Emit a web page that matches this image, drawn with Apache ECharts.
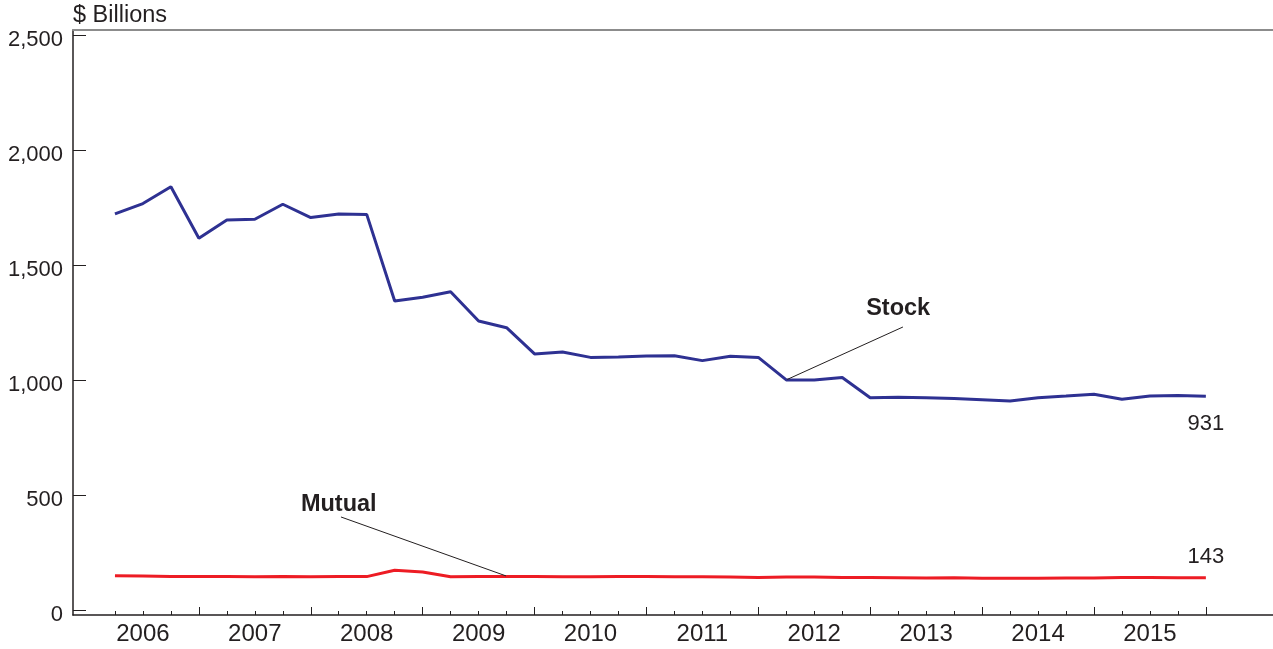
<!DOCTYPE html>
<html><head><meta charset="utf-8">
<script src="https://cdn.jsdelivr.net/npm/echarts@6/dist/echarts.min.js"></script>
<style>html,body{margin:0;padding:0;background:#fff}#c{width:1273px;height:649px}</style>
</head><body><div id="c"></div>
<script>
// Quarter-end index t = 1..40 (2006 Q1 .. 2015 Q4)
const years = [2006, 2007, 2008, 2009, 2010, 2011, 2012, 2013, 2014, 2015];
const quarterIdx = Array.from({length: 40}, (_, i) => i + 1);
const stock = [1723, 1768, 1841, 1617, 1697, 1700, 1765, 1707, 1723, 1721,
               1345, 1361, 1385, 1258, 1229, 1115, 1123, 1100, 1102, 1106,
               1107, 1086, 1105, 1100, 1002, 1002, 1013, 925, 927, 925,
               921, 916, 911, 925, 932, 940, 918, 932, 934, 931];
const mutual = [152, 151, 148, 148, 148, 147, 149, 147, 148, 148,
                176, 168, 147, 148, 149, 149, 147, 147, 148, 148,
                147, 147, 146, 144, 146, 146, 144, 144, 143, 142,
                143, 141, 141, 141, 142, 142, 144, 144, 143, 143];
const yTicks = [0, 500, 1000, 1500, 2000, 2500];
const yearLabelPos = years.map((y, i) => i * 4 + 2);
const yearBounds = years.map((y, i) => i * 4 + 4);
const minorTicks = quarterIdx.filter(t => t % 4 !== 0);

const ink = '#231f20';
const pairs = arr => arr.map((v, i) => [quarterIdx[i], v]);

const chart = echarts.init(document.getElementById('c'), null, {renderer: 'canvas'});
const xBase = {type: 'value', min: -0.5, max: 42.4, gridIndex: 0, splitLine: {show: false}};
chart.setOption({
  animation: false,
  backgroundColor: '#fff',
  title: {text: '$ Billions', left: 73, top: 4, padding: 0,
    textStyle: {fontFamily: 'Liberation Sans', fontSize: 23.5, fontWeight: 'normal', color: ink}},
  grid: {left: 73, right: 0, top: 30, bottom: 34},
  xAxis: [
    Object.assign({}, xBase, {
      position: 'bottom',
      axisLine: {show: true, onZero: false, lineStyle: {color: ink, width: 1.5}},
      axisTick: {show: true, inside: true, length: 4, customValues: minorTicks, lineStyle: {color: ink, width: 1}},
      axisLabel: {show: true, customValues: yearLabelPos, margin: 7,
        formatter: v => String(years[Math.round((v - 2) / 4)]),
        fontFamily: 'Liberation Sans', fontSize: 24, color: ink}
    }),
    Object.assign({}, xBase, {
      position: 'bottom',
      axisLine: {show: false, onZero: false},
      axisTick: {show: true, inside: true, length: 8, customValues: yearBounds, lineStyle: {color: ink, width: 1}},
      axisLabel: {show: false}
    }),
    Object.assign({}, xBase, {
      position: 'top',
      axisLine: {show: true, onZero: false, lineStyle: {color: '#8c8c8c', width: 2}},
      axisTick: {show: false},
      axisLabel: {show: false}
    })
  ],
  yAxis: {
    type: 'value', min: -18.7, max: 2521.7,
    splitLine: {show: false},
    axisLine: {show: true, onZero: false, lineStyle: {color: ink, width: 1.5}},
    axisTick: {show: true, inside: true, length: 13, customValues: yTicks, lineStyle: {color: ink, width: 1}},
    axisLabel: {show: true, customValues: yTicks, margin: 10,
      formatter: v => '{a|' + Number(v).toLocaleString('en-US') + '}',
      rich: {a: {fontFamily: 'Liberation Sans', fontSize: 22, color: ink, padding: [9, 0, 0, 0]}},
      fontFamily: 'Liberation Sans', fontSize: 22, color: ink}
  },
  series: [
    {
      name: 'Stock', type: 'line', xAxisIndex: 0, data: pairs(stock),
      symbol: 'none', lineStyle: {color: '#2e3192', width: 3}, itemStyle: {color: '#2e3192'},
      markPoint: {
        symbol: 'circle', symbolSize: 0, silent: true,
        data: [
          {coord: [quarterIdx[39], stock[39]], label: {show: true, position: 'inside', offset: [0, 28],
            formatter: String(stock[39]), fontFamily: 'Liberation Sans', fontSize: 22, color: ink}},
          {coord: [29.0, 1314], label: {show: true, position: 'inside', formatter: 'Stock',
            fontFamily: 'Liberation Sans', fontSize: 23.5, fontWeight: 'bold', color: ink}}
        ]
      },
      markLine: {
        silent: true, symbol: 'none', label: {show: false},
        lineStyle: {color: ink, width: 1, type: 'solid'},
        data: [[{coord: [25.03, 1004]}, {coord: [29.17, 1232]}]]
      }
    },
    {
      name: 'Mutual', type: 'line', xAxisIndex: 0, data: pairs(mutual),
      symbol: 'none', lineStyle: {color: '#ed1c24', width: 3}, itemStyle: {color: '#ed1c24'},
      markPoint: {
        symbol: 'circle', symbolSize: 0, silent: true,
        data: [
          {coord: [quarterIdx[39], mutual[39]], label: {show: true, position: 'inside', offset: [0, -21],
            formatter: String(mutual[39]), fontFamily: 'Liberation Sans', fontSize: 22, color: ink}},
          {coord: [9.0, 463], label: {show: true, position: 'inside', formatter: 'Mutual',
            fontFamily: 'Liberation Sans', fontSize: 23.5, fontWeight: 'bold', color: ink}}
        ]
      },
      markLine: {
        silent: true, symbol: 'none', label: {show: false},
        lineStyle: {color: ink, width: 1, type: 'solid'},
        data: [[{coord: [9.08, 407]}, {coord: [14.98, 151]}]]
      }
    }
  ]
});
</script>
</body></html>
